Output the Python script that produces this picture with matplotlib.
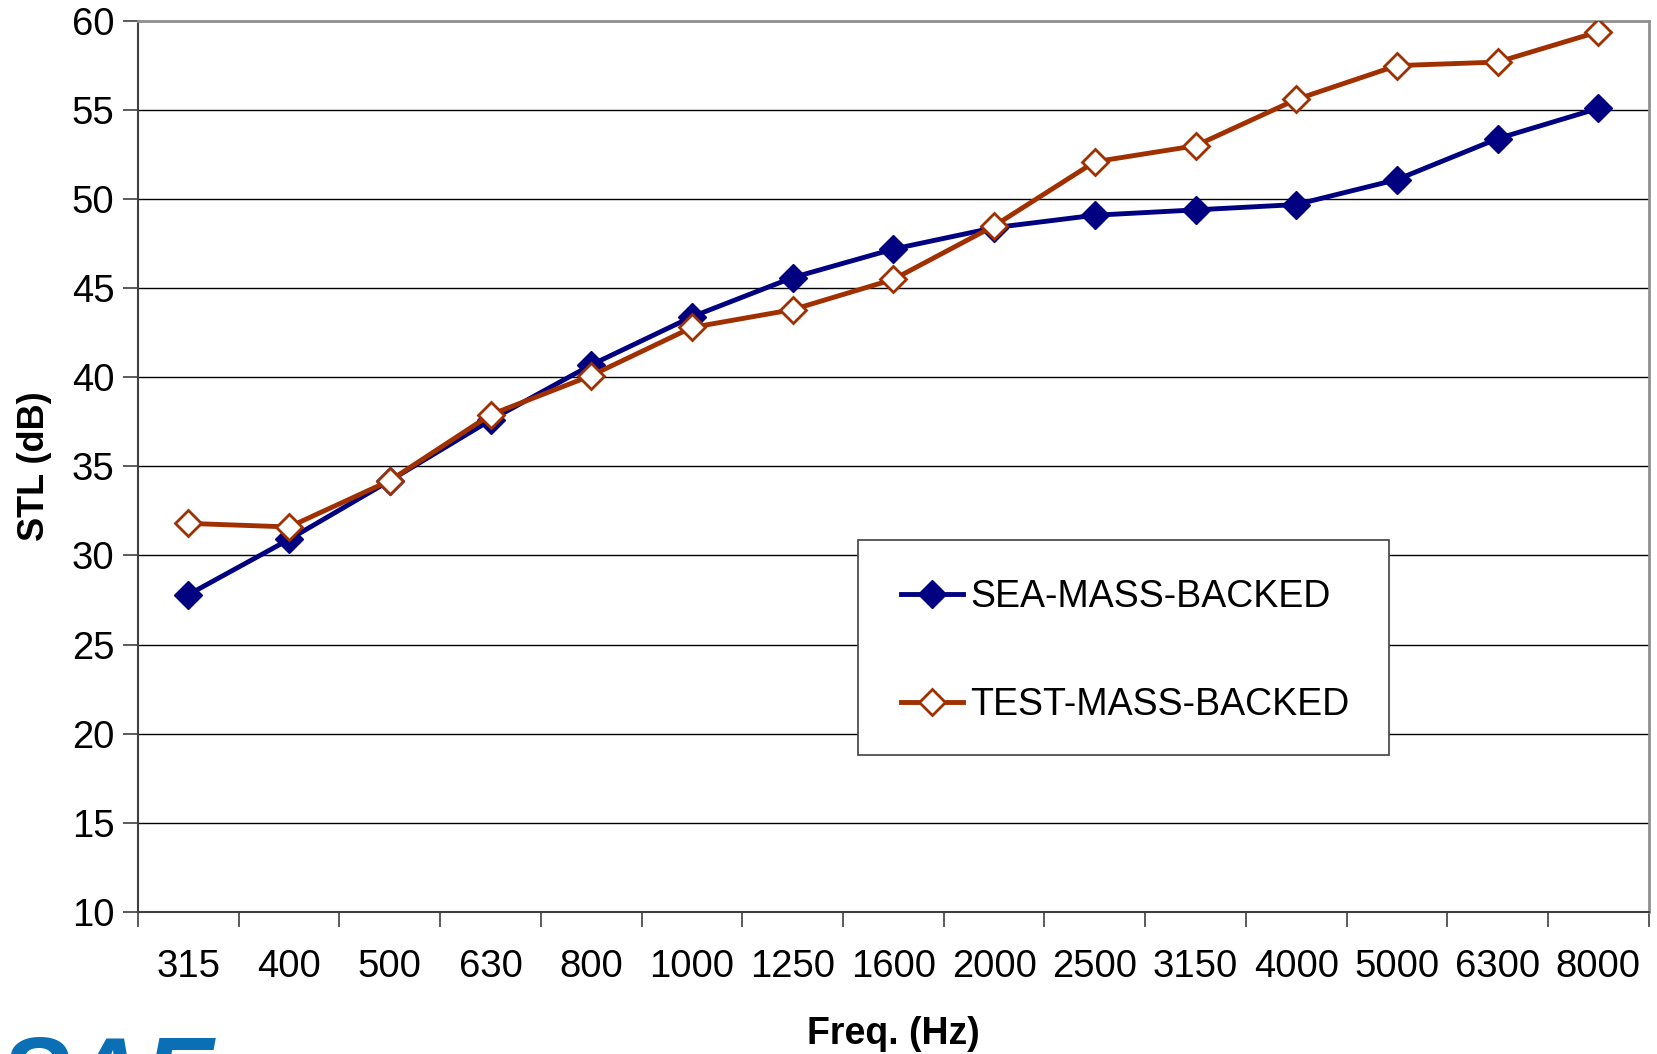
import matplotlib
matplotlib.use("Agg")
import matplotlib.pyplot as plt
from matplotlib.patches import Rectangle

plt.rcParams['font.family'] = ['Liberation Sans', 'DejaVu Sans']

freqs = ["315", "400", "500", "630", "800", "1000", "1250", "1600", "2000",
         "2500", "3150", "4000", "5000", "6300", "8000"]
sea = [27.8, 30.9, 34.2, 37.6, 40.7, 43.4, 45.6, 47.2, 48.4, 49.1, 49.4, 49.7, 51.1, 53.4, 55.1]
test = [31.8, 31.6, 34.2, 37.9, 40.1, 42.8, 43.8, 45.5, 48.5, 52.1, 53.0, 55.6, 57.5, 57.7, 59.4]
yticks = [10, 15, 20, 25, 30, 35, 40, 45, 50, 55, 60]

blue = '#000080'
rust = '#A03000'

W, H = 1657, 1054
fig = plt.figure(figsize=(W / 100, H / 100), dpi=100)
ax = fig.add_axes([0.0833, 0.135, 0.9117, 0.845])

x = list(range(len(freqs)))
ax.plot(x, sea, color=blue, lw=3.5, marker='D', ms=14, mfc=blue, mec=blue, zorder=3,
        label='SEA-MASS-BACKED', solid_joinstyle='round')
ax.plot(x, test, color=rust, lw=3.5, marker='D', ms=13, mfc='white', mec=rust, mew=2,
        zorder=4, label='TEST-MASS-BACKED', solid_joinstyle='round')

ax.set_xlim(-0.5, len(freqs) - 0.5)
ax.set_ylim(10, 60)
ax.set_yticks(yticks)
ax.yaxis.grid(True, color='black', lw=1.0)
ax.set_axisbelow(True)

ax.set_xticks([i + 0.5 for i in range(-1, len(freqs))])
ax.set_xticklabels([])
ax.set_xticks(x, minor=True)
ax.set_xticklabels(freqs, minor=True)
ax.tick_params(axis='x', which='major', length=11, width=1.2, color='#404040', direction='out')
ax.tick_params(axis='x', which='minor', length=0, labelsize=27.5, pad=27)
ax.tick_params(axis='y', length=11, width=1.2, color='#404040', labelsize=27.5, pad=6)

for side in ['top', 'right']:
    ax.spines[side].set_color('#909090')
    ax.spines[side].set_linewidth(2)
for side in ['left', 'bottom']:
    ax.spines[side].set_color('#404040')
    ax.spines[side].set_linewidth(1.5)

ax.set_xlabel('Freq. (Hz)', fontsize=27, fontweight='bold', labelpad=22)
ax.set_ylabel('STL (dB)', fontsize=26, fontweight='bold', labelpad=14)

# legend box frame
box = Rectangle((858 / W, 1 - 755 / H), (1389 - 858) / W, 215 / H,
                transform=fig.transFigure, facecolor='white', edgecolor='#404040',
                lw=1.2, clip_on=False, zorder=8)
ax.add_patch(box)

leg = ax.legend(loc='center left', bbox_to_anchor=(901 / W, 1 - 651 / H),
                bbox_transform=fig.transFigure, fontsize=27,
                frameon=False, handlelength=1.65, handletextpad=0.2,
                labelspacing=1.9, borderpad=0, borderaxespad=0)
leg.set_zorder(10)

fig.text(0.0, -0.053, 'SAE', fontsize=75, fontweight='bold', fontstyle='italic',
         color='#0a6fb5', ha='left', va='baseline')

fig.savefig('out.png', dpi=100)
